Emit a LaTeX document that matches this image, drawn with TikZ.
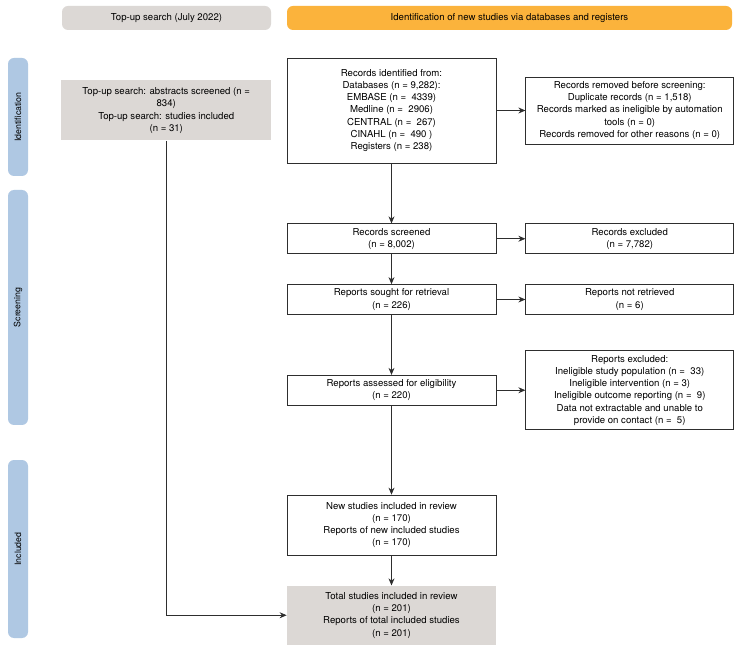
\documentclass[tikz,border=0pt]{standalone}
\usepackage{fontspec}
\setmainfont{TeX Gyre Heros}
\usetikzlibrary{arrows.meta,positioning,calc}
\definecolor{topupGray}{HTML}{DCD8D5}
\definecolor{newOrange}{HTML}{FBB33C}
\definecolor{phaseBlue}{HTML}{AFC8E3}
\definecolor{lineGray}{HTML}{2E2E2E}
\tikzset{
  flowbox/.style={draw=lineGray, line width=0.75pt, fill=white,
    minimum width=209pt, minimum height=30pt, align=center, inner sep=2pt,
    font=\fontsize{9.6}{12.2}\selectfont},
  grayflowbox/.style={flowbox, draw=none, fill=topupGray},
  headbox/.style={rounded corners=6pt, minimum height=24pt,
    font=\fontsize{9.6}{11}\selectfont},
  phasebar/.style={fill=phaseBlue, rounded corners=6pt, rotate=90,
    minimum height=20pt, font=\fontsize{8.8}{10}\selectfont},
  flowArc/.style={-{Stealth[length=7pt, width=6pt]}, draw=lineGray, line width=0.75pt},
}
\begin{document}
\begin{tikzpicture}[x=1pt, y=-1pt]
    \fill[white] (0,0) rectangle (740,647);
    \useasboundingbox (0,0) rectangle (740,647);
    % headers and phase bars
    \node[headbox, fill=topupGray, minimum width=209pt] (hdrTopup) at (166.5,18) {Top-up search (July 2022)};
    \node[headbox, fill=newOrange, minimum width=445pt] (hdrNew) at (509.5,18) {Identification of new studies via databases and registers};
    \node[phasebar, minimum width=118pt] (phIdent) at (18,117) {Identification};
    \node[phasebar, minimum width=235pt] (phScreen) at (18,307.5) {Screening};
    \node[phasebar, minimum width=178pt] (phIncl) at (18,549) {Included};
    % main column
    \node[flowbox, minimum height=105pt] (ident) at (391.5,110.5) {Records identified from:\\ Databases (n = 9,282):\\ EMBASE (n =\ \ 4339)\\ Medline (n =\ \ 2906)\\ CENTRAL (n =\ \ 267)\\ CINAHL (n =\ \ 490 )\\ Registers (n = 238)};
    \node[flowbox, below=60pt of ident] (screened) {Records screened\\ (n = 8,002)};
    \node[flowbox, below=30pt of screened] (sought) {Reports sought for retrieval\\ (n = 226)};
    \node[flowbox, below=60pt of sought] (assessed) {Reports assessed for eligibility\\ (n = 220)};
    \node[flowbox, minimum height=60pt, below=89pt of assessed] (newstud) {New studies included in review\\ (n = 170)\\ Reports of new included studies\\ (n = 170)};
    \node[grayflowbox, minimum height=59pt, below=30pt of newstud] (total) {Total studies included in review\\ (n = 201)\\ Reports of total included studies\\ (n = 201)};
    % right column
    \node[flowbox, minimum width=208pt, minimum height=67pt, right=29pt of ident] (removed) {Records removed before screening:\\ Duplicate records (n = 1,518)\\ Records marked as ineligible by automation\\ tools (n = 0)\\ Records removed for other reasons (n = 0)};
    \node[flowbox, minimum width=208pt, right=29pt of screened] (excluded) {Records excluded\\ (n = 7,782)};
    \node[flowbox, minimum width=208pt, right=29pt of sought] (notretr) {Reports not retrieved\\ (n = 6)};
    \node[flowbox, minimum width=208pt, minimum height=79pt, right=29pt of assessed] (repexcl) {Reports excluded:\\ Ineligible study population (n =\ \ 33)\\ Ineligible intervention (n = 3)\\ Ineligible outcome reporting (n =\ \ 9)\\ Data not extractable and unable to\\ provide on contact (n =\ \ 5)};
    % top-up column
    \node[grayflowbox, minimum width=210pt, minimum height=60pt, left=15pt of ident] (topup) {Top-up search: abstracts screened (n =\\ 834)\\ Top-up search: studies included\\ (n = 31)};
    % arrows
    \draw[flowArc] (ident) -- (screened);
    \draw[flowArc] (screened) -- (sought);
    \draw[flowArc] (sought) -- (assessed);
    \draw[flowArc] (assessed) -- (newstud);
    \draw[flowArc] (newstud) -- (total);
    \draw[flowArc] (ident.east) -- (ident.east -| removed.west);
    \draw[flowArc] (screened) -- (excluded);
    \draw[flowArc] (sought) -- (notretr);
    \draw[flowArc] (assessed) -- (repexcl);
    \draw[flowArc] (topup.south) |- (total.west);
\end{tikzpicture}
\end{document}
